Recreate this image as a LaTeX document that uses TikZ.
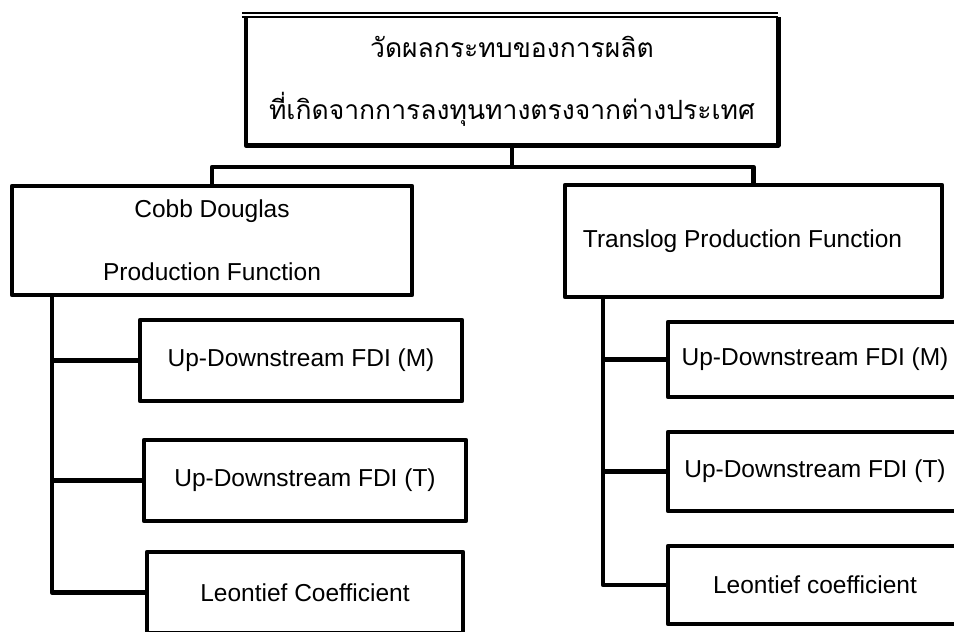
\documentclass[tikz,border=0pt]{standalone}
\usepackage{fontspec}
\usetikzlibrary{calc}
\setmainfont{Liberation Sans}
\newfontfamily\thaifont[Script=Thai]{Loma}
\begin{document}
\begin{tikzpicture}[x=1pt,y=-1pt,
  boxline/.style={line width=4.5pt, line join=round},
  thinline/.style={line width=1.5pt},
  conn/.style={line width=4.5pt, line join=round},
  box/.style={draw, boxline, rectangle, inner sep=0pt, align=center,
    font=\fontsize{24.5}{63}\selectfont},
]
\useasboundingbox (0,0) rectangle (954,632);
\fill[white] (0,0) rectangle (954,632);
\clip (0,0) rectangle (954,632);

% top box (top edge drawn thin)
\node[box, draw=none, minimum width=528pt, minimum height=124pt,
  font=\thaifont\fontsize{26.5}{62}\selectfont] (top) at (512,81)
  {วัดผลกระทบของการผลิต\\ที่เกิดจากการลงทุนทางตรงจากต่างประเทศ};
\draw[boxline] (top.north west) -- (top.south west) -- (top.south east) -- (top.north east);
\draw[thinline] ($(top.north west)+(-4,0)$) -- ($(top.north east)+(0,0)$);
\draw[thinline] ($(top.north west)+(-4,-4)$) -- ($(top.north east)+(0,-4)$);

% second level
\node[box, minimum width=400pt, minimum height=109pt] (cd) at (212,240.5)
  {Cobb Douglas\\Production Function};
\node[box, minimum width=377pt, minimum height=112pt] (tl) at (753.5,241)
  {Translog Production Function\hspace{22pt}};

% left children
\node[box, minimum width=322pt, minimum height=81pt] (c1) at (301,360.5) {Up-Downstream FDI (M)};
\node[box, minimum width=322pt, minimum height=81pt] (c2) at (305,480.5) {Up-Downstream FDI (T)};
\node[box, minimum width=316pt, minimum height=81pt] (c3) at (305,592.5) {Leontief Coefficient};

% right children
\node[box, minimum width=294pt, minimum height=75pt] (c4) at (815,359.5) {Up-Downstream FDI (M)};
\node[box, minimum width=294pt, minimum height=79pt] (c5) at (815,471.5) {Up-Downstream FDI (T)};
\node[box, minimum width=294pt, minimum height=78pt] (c6) at (815,585) {Leontief coefficient};

% connectors
\coordinate (j) at (512,167);
\draw[conn] (top.south) -- (j);
\draw[conn] (cd.north) |- (j) -| (tl.north);

\coordinate (ls) at (52,295);
\draw[conn] (ls) |- (c1.west);
\draw[conn] (ls) |- (c2.west);
\draw[conn] (ls) |- (c3.west);

\coordinate (rs) at (603,297);
\draw[conn] (rs) |- (c4.west);
\draw[conn] (rs) |- (c5.west);
\draw[conn] (rs) |- (c6.west);
\end{tikzpicture}
\end{document}
